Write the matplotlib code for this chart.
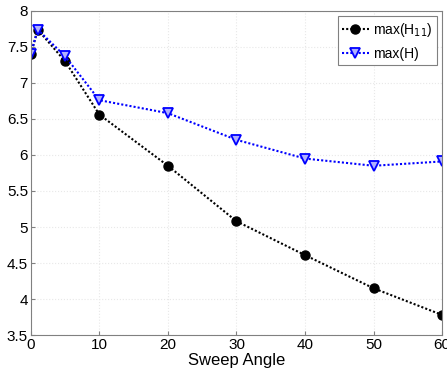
import matplotlib
matplotlib.use('Agg')
import matplotlib.pyplot as plt
from matplotlib.ticker import FormatStrFormatter

sweep_angle = [0, 1, 5, 10, 20, 30, 40, 50, 60]
max_h11 = [7.40, 7.74, 7.30, 6.56, 5.85, 5.08, 4.61, 4.15, 3.78]
max_h = [7.40, 7.74, 7.37, 6.76, 6.58, 6.21, 5.95, 5.85, 5.91]

x_ticks = [0, 10, 20, 30, 40, 50, 60]
y_ticks = [3.5, 4, 4.5, 5, 5.5, 6, 6.5, 7, 7.5, 8]

plt.rcParams['font.family'] = ['Liberation Sans', 'DejaVu Sans']

fig = plt.figure(figsize=(4.47, 3.74), dpi=100)
ax = fig.add_axes([0.069, 0.104, 0.92, 0.867])

ax.plot(sweep_angle, max_h11, color='black', linestyle=(0, (1, 1)), linewidth=1.5,
        marker='o', markersize=6.5, markerfacecolor='black', label='max(H$_{11}$)')
ax.plot(sweep_angle, max_h, color='blue', linestyle=(0, (1, 1)), linewidth=1.5,
        marker='v', markersize=6.5, markerfacecolor='#b0b0ff', markeredgecolor='blue',
        markeredgewidth=1.3, label='max(H)')

ax.set_xlim(0, 60)
ax.set_ylim(3.5, 8)
ax.set_xticks(x_ticks)
ax.set_yticks(y_ticks)
ax.yaxis.set_major_formatter(FormatStrFormatter('%g'))
ax.grid(True, color='#e8e8e8', linestyle=':', linewidth=0.8)
ax.set_axisbelow(True)
ax.tick_params(direction='in', length=3, labelsize=11, color='#808080', pad=2)
for s in ax.spines.values():
    s.set_color('#808080')
ax.set_xlabel('Sweep Angle', fontsize=12, labelpad=1)

leg = ax.legend(loc='upper right', fontsize=10, fancybox=False, framealpha=1,
                edgecolor='#808080', handlelength=1.9, handletextpad=0.3,
                borderaxespad=0.4, labelspacing=0.6, borderpad=0.3)
leg.get_frame().set_linewidth(0.8)

fig.savefig('out.png', dpi=100)
